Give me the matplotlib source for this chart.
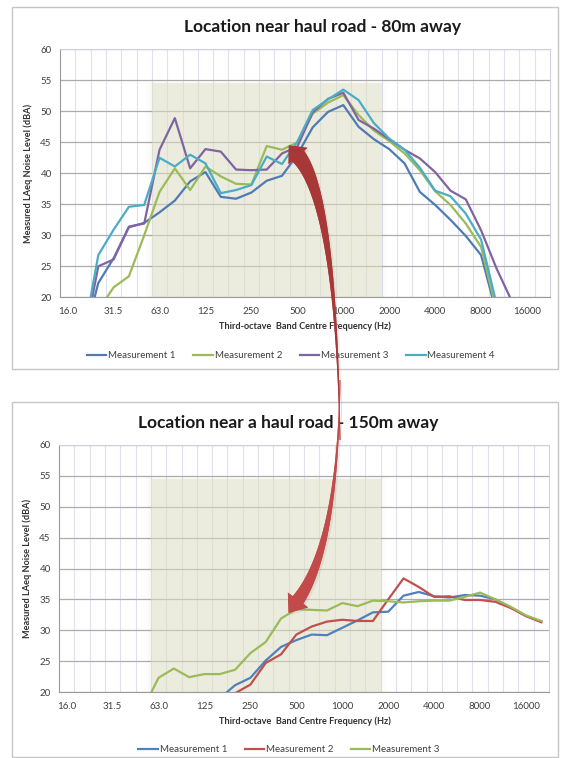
import numpy as np
import matplotlib
matplotlib.use('Agg')
import matplotlib.pyplot as plt
from matplotlib.patches import Rectangle, Polygon
from matplotlib.lines import Line2D
import matplotlib.patheffects as pe

plt.rcParams['font.family'] = ['Lato', 'DejaVu Sans']

W, H = 565, 758
nan = np.nan

# third-octave bands, 16 Hz .. 20 kHz (category axis)
bands = [16, 20, 25, 31.5, 40, 50, 63, 80, 100, 125, 160, 200, 250, 315, 400, 500,
         630, 800, 1000, 1250, 1600, 2000, 2500, 3150, 4000, 5000, 6300, 8000,
         10000, 12500, 16000, 20000]
tickLabels = ['16.0', '31.5', '63.0', '125', '250', '500', '1000', '2000', '4000', '8000', '16000']

# 80 m location
top_m1 = [10.0, 12.7, 22.3, 26.3, 31.3, 32.0, 33.7, 35.6, 38.7, 40.2, 36.2, 35.9, 36.9, 38.8, 39.6, 43.0,
          47.4, 49.9, 51.0, 47.5, 45.5, 43.9, 41.6, 37.0, 34.9, 32.5, 29.9, 26.8, 17.5, nan, nan, nan]
top_m2 = [nan, 15.0, 17.9, 21.6, 23.4, 30.0, 37.0, 40.8, 37.3, 41.1, 39.5, 38.3, 38.2, 44.4, 43.8, 45.0,
          49.6, 51.4, 52.6, 49.4, 46.9, 45.2, 43.2, 40.5, 37.1, 34.9, 31.9, 28.1, 18.0, nan, nan, nan]
top_m3 = [nan, 12.2, 25.0, 26.1, 31.4, 31.9, 43.8, 48.9, 40.8, 43.9, 43.5, 40.6, 40.5, 40.6, 43.2, 44.3,
          49.8, 52.0, 53.0, 48.6, 47.2, 45.5, 43.8, 42.4, 40.2, 37.2, 35.8, 30.8, 24.7, 19.4, nan, nan]
top_m4 = [nan, 13.2, 26.8, 30.9, 34.6, 34.9, 42.5, 41.1, 43.0, 41.6, 36.8, 37.3, 38.1, 42.7, 41.5, 45.1,
          50.2, 51.9, 53.5, 51.8, 48.1, 45.6, 43.8, 40.9, 37.2, 36.3, 33.5, 29.3, 19.0, nan, nan, nan]

# 150 m location
bot_m1 = [nan, nan, nan, nan, nan, nan, nan, nan, nan, nan, 19.0, 21.1, 22.3, 25.1, 27.3, 28.4,
          29.3, 29.2, 30.4, 31.6, 32.9, 33.0, 35.6, 36.2, 35.5, 35.3, 35.7, 35.6, 35.0, 33.7, 32.3, 31.4]
bot_m2 = [nan, nan, nan, nan, nan, nan, nan, nan, nan, nan, nan, 19.8, 21.2, 24.7, 26.1, 29.3,
          30.6, 31.4, 31.7, 31.5, 31.5, 35.0, 38.4, 37.0, 35.4, 35.5, 34.9, 34.9, 34.6, 33.6, 32.3, 31.3]
bot_m3 = [nan, nan, nan, nan, nan, 17.3, 22.3, 23.8, 22.4, 22.9, 22.9, 23.6, 26.3, 28.1, 31.9, 33.4,
          33.3, 33.2, 34.4, 33.9, 34.8, 34.7, 34.5, 34.7, 34.8, 34.8, 35.4, 36.1, 35.0, 33.8, 32.4, 31.5]

shadeBands = (5.5, 20.5)   # highlighted band range (category edges)
shadeTop = 54.5

fig = plt.figure(figsize=(W/100, H/100), dpi=100)


def px(x, y):
    return x/W, 1 - y/H


def frame(y0, y1):
    fig.add_artist(Rectangle(px(12, y1), (558-12)/W, (y1-y0)/H, transform=fig.transFigure,
                             fill=False, ec='#c6c6c6', lw=1.0, zorder=0))


def panel(rect, series, names, colors, title, titleX, legendX, legendY):
    l, t, r, b = rect
    x0, y0 = px(l, b)
    ax = fig.add_axes([x0, y0, (r-l)/W, (b-t)/H])
    x = np.arange(len(bands))
    ax.set_xlim(-0.5, len(bands)-0.5)
    ax.set_ylim(20, 60)
    ax.set_yticks(range(20, 61, 5))
    ax.set_xticks(np.arange(0, 31, 3))
    ax.set_xticklabels(tickLabels)
    ax.set_xticks(np.arange(0.5, len(bands)-1, 1), minor=True)
    ax.set_axisbelow(True)
    ax.yaxis.grid(True, color='#acacac', lw=0.9)
    ax.xaxis.grid(True, which='minor', color='#dfe2ee', lw=0.8)
    ax.tick_params(which='both', length=0, labelsize=7, colors='#404040')
    ax.tick_params(axis='x', pad=7)
    ax.tick_params(axis='y', pad=6)
    for s in ['top', 'right']:
        ax.spines[s].set_color('#cfd2de')
    ax.spines['left'].set_color('#9a9a9a')
    ax.spines['bottom'].set_color('#9a9a9a')

    # highlighted frequency range with a soft edge
    for k, a in [(0.45, 0.02), (0.25, 0.025), (0.1, 0.03)]:
        ax.add_patch(Rectangle((shadeBands[0]-k, 20), shadeBands[1]-shadeBands[0]+2*k, shadeTop-20+k*1.2,
                               fc='#a8a888', ec='none', alpha=a, zorder=1.4))
    ax.add_patch(Rectangle((shadeBands[0], 20), shadeBands[1]-shadeBands[0], shadeTop-20,
                           fc='#e2e2c8', ec='none', alpha=0.5, zorder=1.5))

    for y, c in zip(series, colors):
        ax.plot(x, y, color=c, lw=1.6, zorder=3, solid_joinstyle='round')

    ax.set_ylabel('Measured LAeq Noise Level (dBA)', fontsize=6.6, fontweight='bold', color='#303030')
    ax.yaxis.set_label_coords(-0.056, 0.5)
    fig.text(305/W, 1-(b+29)/H, 'Third-octave  Band Centre Frequency (Hz)', ha='center', va='center',
             fontsize=6.6, fontweight='bold', color='#303030')
    fig.text(titleX/W, 1-(t-22)/H, title, ha='center', va='center', fontsize=12.5, fontweight='bold',
             color='#1a1a1a')
    handles = [Line2D([], [], color=c, lw=1.6) for c in colors]
    fig.legend(handles, names, loc='center', bbox_to_anchor=px(legendX, legendY), ncol=len(names),
               frameon=False, fontsize=7, handlelength=2.0, handletextpad=0.2, columnspacing=1.8,
               labelcolor='#404040')
    return ax


def swoosh(p0, p1, p2, wmax, headLen, headW, color):
    t = np.linspace(0, 1, 80)[:, None]
    P0, P1, P2 = np.array(p0, float), np.array(p1, float), np.array(p2, float)
    pts = (1-t)**2*P0 + 2*(1-t)*t*P1 + t**2*P2
    d = 2*(1-t)*(P1-P0) + 2*t*(P2-P1)
    d = d/np.linalg.norm(d, axis=1)[:, None]
    nrm = np.column_stack([-d[:, 1], d[:, 0]])
    w = 0.8 + (wmax-0.8)*t[:, 0]**1.7
    left = pts + nrm*w[:, None]/2
    right = pts - nrm*w[:, None]/2
    tip = P2 + d[-1]*headLen
    head = [P2 + nrm[-1]*headW/2, tip, P2 - nrm[-1]*headW/2]
    poly = np.vstack([left, head, right[::-1]])
    poly = np.column_stack([poly[:, 0]/W, 1 - poly[:, 1]/H])
    fig.add_artist(Polygon(poly, closed=True, transform=fig.transFigure, fc=color, ec='none', zorder=20,
                           path_effects=[pe.withSimplePatchShadow(offset=(1.5, -1.5), shadow_rgbFace='#888888',
                                                                  alpha=0.15), pe.Normal()]))


frame(7, 369)
frame(402, 757)

panel((60, 49.3, 550, 297.3), [top_m1, top_m2, top_m3, top_m4],
      ['Measurement 1', 'Measurement 2', 'Measurement 3', 'Measurement 4'],
      ['#4f7bb5', '#9bbb59', '#8064a2', '#4bacc6'],
      'Location near haul road - 80m away', 322, 291, 355.5)
panel((59, 445, 549, 692), [bot_m1, bot_m2, bot_m3],
      ['Measurement 1', 'Measurement 2', 'Measurement 3'],
      ['#4f81bd', '#c0504d', '#9bbb59'],
      'Location near a haul road - 150m away', 288, 289, 750)

swoosh((340, 440), (336, 200), (298, 156), 16, 14, 25, '#a83838')
swoosh((340, 380), (338, 545), (298, 600), 13, 16, 25, '#c24a48')

fig.savefig('out.png', dpi=100)
